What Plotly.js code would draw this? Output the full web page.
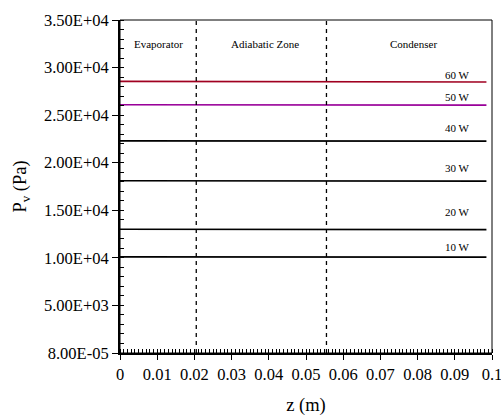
<!DOCTYPE html>
<html><head><meta charset="utf-8">
<script src="https://cdn.plot.ly/plotly-3.0.1.min.js"></script>
<style>html,body{margin:0;padding:0;background:#fff}#plot{width:501px;height:416px}</style>
</head><body><div id="plot"></div>
<script>
var z = [0, 0.02, 0.04, 0.06, 0.08, 0.0985];
var p60 = [28550, 28540, 28520, 28500, 28490, 28480];
var p50 = [26100, 26090, 26080, 26070, 26060, 26050];
var p40 = [22300, 22300, 22290, 22280, 22280, 22270];
var p30 = [18100, 18100, 18090, 18080, 18080, 18070];
var p20 = [13000, 13000, 12990, 12980, 12980, 12970];
var p10 = [10100, 10100, 10090, 10090, 10080, 10080];
var seriesNames = ['60 W','50 W','40 W','30 W','20 W','10 W'];
var seriesVals = [p60, p50, p40, p30, p20, p10];
var seriesColors = ['#a00020', '#990099', '#000000', '#000000', '#000000', '#000000'];
var labelY = [29200, 26900, 23700, 19400, 14800, 11100];
var zoneBounds = [0.0205, 0.0555];
var zoneNames = ['Evaporator', 'Adiabatic Zone', 'Condenser'];
var zoneX = [0.0103, 0.0391, 0.0789];
var yTickVals = [0, 5000, 10000, 15000, 20000, 25000, 30000, 35000];
var yTickText = ['8.00E-05','5.00E+03','1.00E+04','1.50E+04','2.00E+04','2.50E+04','3.00E+04','3.50E+04'];
var xTickVals = [0,0.01,0.02,0.03,0.04,0.05,0.06,0.07,0.08,0.09,0.1];
var xTickText = ['0','0.01','0.02','0.03','0.04','0.05','0.06','0.07','0.08','0.09','0.1'];

var SERIF = 'Liberation Serif, Times New Roman, serif';
var traces = seriesVals.map(function(v,i){
  return {x: z, y: v, mode:'lines', name: seriesNames[i], line:{color: seriesColors[i], width:1.6}, showlegend:false, hoverinfo:'skip'};
});
zoneBounds.forEach(function(b){
  traces.push({x:[b,b], y:[0,35000], mode:'lines', line:{color:'#000', width:1.3, dash:'4px,4px'}, showlegend:false, hoverinfo:'skip'});
});

var ann = [];
zoneNames.forEach(function(n,i){
  ann.push({x: zoneX[i], y: 32480, text: n, showarrow:false, font:{family:SERIF, size:11, color:'#000'}});
});
seriesNames.forEach(function(n,i){
  ann.push({x: 0.0907, y: labelY[i], text: n, showarrow:false, font:{family:SERIF, size:11, color:'#000'}});
});

var layout = {
  width:501, height:416,
  margin:{l:120, r:9, t:20, b:63},
  paper_bgcolor:'#fff', plot_bgcolor:'#fff',
  font:{family:SERIF, color:'#000'},
  xaxis:{range:[0,0.1], tickvals:xTickVals, ticktext:xTickText, ticks:'outside', ticklen:5, tickwidth:1, tickcolor:'#000',
    showline:true, linecolor:'#000', linewidth:2, mirror:false, showgrid:false, zeroline:false, ticklabeloverflow:'allow',
    tickfont:{family:SERIF, size:16.5, color:'#000'},
    minor:{dtick:0.001, ticks:'inside', ticklen:4, tickwidth:1, tickcolor:'#000', showgrid:false},
    title:{text:'z (m)', font:{family:SERIF, size:18.5, color:'#000'}, standoff:17}},
  yaxis:{range:[0,35000], tickvals:yTickVals, ticktext:yTickText, ticks:'outside', ticklen:6, tickwidth:1, tickcolor:'#000',
    showline:true, linecolor:'#000', linewidth:2, showgrid:false, zeroline:false, ticklabeloverflow:'allow',
    tickfont:{family:SERIF, size:16.5, color:'#000'},
    minor:{dtick:1000, ticks:'inside', ticklen:4, tickwidth:1, tickcolor:'#000', showgrid:false},
    title:{text:'P<sub>v</sub> (Pa)', font:{family:SERIF, size:18.5, color:'#000'}, standoff:12}},
  shapes:[{type:'rect', xref:'paper', yref:'paper', x0:0, x1:1, y0:0, y1:1, line:{color:'#000', width:1}}],
  annotations: ann
};
Plotly.newPlot('plot', traces, layout, {staticPlot:true, displayModeBar:false});
</script></body></html>
